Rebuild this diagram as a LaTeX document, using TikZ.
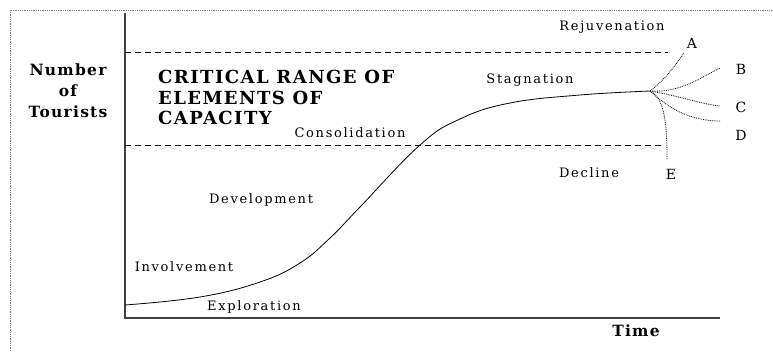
\documentclass[tikz,border=0pt]{standalone}
\usepackage{fontspec}
\setmainfont{DejaVu Serif}
\newfontfamily\stagefont[LetterSpace=13]{DejaVu Serif}
\newfontfamily\widefont[LetterSpace=8]{DejaVu Serif}
\begin{document}
\begin{tikzpicture}[
  x=1pt,y=-1pt,
  stagelabel/.style={%
    inner sep=0pt,%
    font=\stagefont\fontsize{13}{15}\selectfont%
  },
  branchlabel/.style={%
    inner sep=0pt,%
    font=\fontsize{14}{16}\selectfont%
  },
  axislabel/.style={%
    inner sep=0pt,%
    align=center,%
    font=\widefont\bfseries\fontsize{15.5}{21}\selectfont%
  },
  rangelabel/.style={%
    inner sep=0pt,%
    align=left,%
    anchor=north west,%
    font=\widefont\bfseries\fontsize{18}{20.5}\selectfont%
  },
  limitline/.style={%
    dash pattern=on 6pt off 4pt,%
    line width=0.9pt%
  },
  branchline/.style={%
    densely dotted,%
    line width=0.8pt%
  }
]

  \useasboundingbox (0,0) rectangle (773,351);

  % frame
  \draw[gray,densely dotted,line width=0.8pt] (10,351) -- (10,10) -- (773,10);

  % axes
  \coordinate (top)    at (125,13);
  \coordinate (origin) at (125,318);
  \coordinate (tend)   at (720,318);
  \draw[black!75,line width=1.5pt] (top) -- (origin) -- (tend);

  % capacity range
  \coordinate (upl) at (125,52);
  \coordinate (upr) at (668,52);
  \coordinate (lol) at (125,145);
  \coordinate (lor) at (663,145);
  \draw[limitline] (upl) -- (upr);
  \draw[limitline] (lol) -- (lor);

  \node [axislabel]  (tourists) at (68,91)  {Number\\of\\Tourists};
  \node [axislabel]  (time)     at (636,331) {Time};
  \node [rangelabel] (range)    at (158,70) {CRITICAL RANGE OF\\ELEMENTS OF\\CAPACITY};

  \node [stagelabel] (rejuv)   at (612,27)  {Rejuvenation};
  \node [stagelabel] (stag)    at (530,80)  {Stagnation};
  \node [stagelabel] (consol)  at (350,133) {Consolidation};
  \node [stagelabel] (devel)   at (261,200) {Development};
  \node [stagelabel] (involve) at (184,267) {Involvement};
  \node [stagelabel] (explore) at (254,307) {Exploration};
  \node [stagelabel] (decline) at (589,173) {Decline};

  \node [branchlabel] (a) at (692,43)  {A};
  \node [branchlabel] (b) at (741,69)  {B};
  \node [branchlabel] (c) at (741,107) {C};
  \node [branchlabel] (d) at (741,135) {D};
  \node [branchlabel] (e) at (671,174) {E};

  % life cycle curve
  \coordinate (start)  at (125,305);
  \coordinate (branch) at (650,91);
  \draw[line width=0.8pt] plot[smooth,tension=0.7] coordinates {(start) (200,297) (260,282) (300,263) (330,238) (360,207) (420,145) (460,119) (510,103) (580,95) (branch)};

  % future paths
  \coordinate (enda) at (684,53);
  \coordinate (endb) at (720,68);
  \coordinate (endc) at (720,106);
  \coordinate (endd) at (720,121);
  \coordinate (ende) at (667,160);
  \draw[branchline] (branch) .. controls (665,80) and (677,63) .. (enda);
  \draw[branchline] (branch) .. controls (680,93) and (700,78) .. (endb);
  \draw[branchline] (branch) .. controls (680,96) and (700,104) .. (endc);
  \draw[branchline] (branch) .. controls (668,108) and (690,121) .. (endd);
  \draw[branchline] (branch) .. controls (664,98) and (667,120) .. (ende);

\end{tikzpicture}
\end{document}
